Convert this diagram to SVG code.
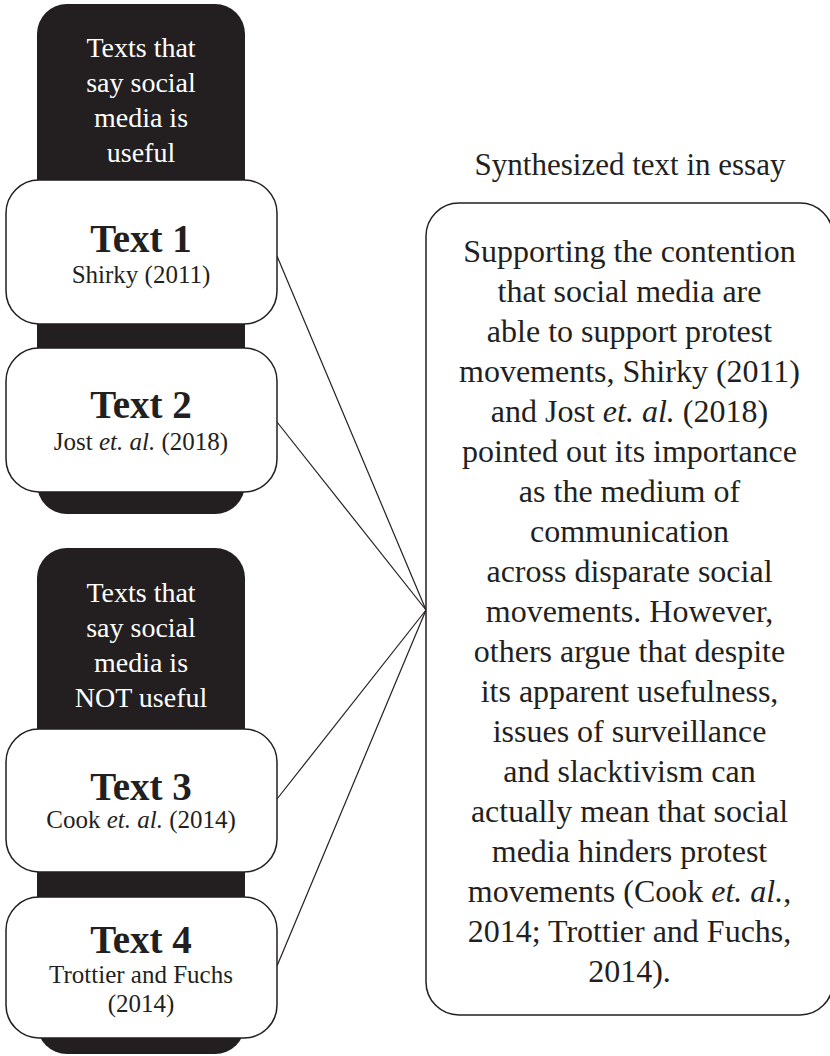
<svg xmlns="http://www.w3.org/2000/svg" width="830" height="1056" viewBox="0 0 830 1056">
  <style>
    .dark { fill: #231f20; }
    .card { fill: #ffffff; stroke: #231f20; stroke-width: 1.5; }
    .lbl { font-family: "Liberation Serif", "Times New Roman", serif; font-size: 28px; fill: #ffffff; text-anchor: middle; }
    .head { font-family: "Liberation Serif", "Times New Roman", serif; font-size: 39px; font-weight: bold; fill: #231f20; text-anchor: middle; }
    .sub { font-family: "Liberation Serif", "Times New Roman", serif; font-size: 25px; fill: #231f20; text-anchor: middle; }
    .body { font-family: "Liberation Serif", "Times New Roman", serif; font-size: 32px; fill: #231f20; text-anchor: middle; }
    .title { font-family: "Liberation Serif", "Times New Roman", serif; font-size: 31px; fill: #231f20; text-anchor: middle; }
    .it { font-style: italic; }
    .conn { stroke: #231f20; stroke-width: 1.2; fill: none; }
  </style>

  <g id="group-useful">
    <rect class="dark" x="37" y="4" width="208" height="510" rx="30" ry="30"/>
    <text class="lbl" x="141" y="57">Texts that</text>
    <text class="lbl" x="141" y="92">say social</text>
    <text class="lbl" x="141" y="127">media is</text>
    <text class="lbl" x="141" y="162">useful</text>
  </g>

  <g id="group-not-useful">
    <rect class="dark" x="37" y="548" width="208" height="506" rx="30" ry="30"/>
    <text class="lbl" x="141" y="602">Texts that</text>
    <text class="lbl" x="141" y="637">say social</text>
    <text class="lbl" x="141" y="672">media is</text>
    <text class="lbl" x="141" y="707">NOT useful</text>
  </g>

  <g id="connectors">
    <line class="conn" x1="277" y1="256" x2="426" y2="610"/>
    <line class="conn" x1="277" y1="422" x2="426" y2="610"/>
    <line class="conn" x1="277" y1="799" x2="426" y2="610"/>
    <line class="conn" x1="277" y1="966" x2="426" y2="610"/>
  </g>

  <g id="text1">
    <rect class="card" x="6" y="180" width="271" height="144" rx="33" ry="33"/>
    <text class="head" x="141" y="252">Text 1</text>
    <text class="sub" x="141" y="283">Shirky (2011)</text>
  </g>

  <g id="text2">
    <rect class="card" x="6" y="348" width="271" height="144" rx="33" ry="33"/>
    <text class="head" x="141" y="418">Text 2</text>
    <text class="sub" x="141" y="450">Jost <tspan class="it">et. al.</tspan> (2018)</text>
  </g>

  <g id="text3">
    <rect class="card" x="6" y="729" width="271" height="143" rx="33" ry="33"/>
    <text class="head" x="141" y="800">Text 3</text>
    <text class="sub" x="141" y="828">Cook <tspan class="it">et. al.</tspan> (2014)</text>
  </g>

  <g id="text4">
    <rect class="card" x="6" y="897" width="271" height="141" rx="33" ry="33"/>
    <text class="head" x="141" y="953">Text 4</text>
    <text class="sub" x="141" y="983">Trottier and Fuchs</text>
    <text class="sub" x="141" y="1012">(2014)</text>
  </g>

  <g id="synthesis">
    <text class="title" x="630" y="175">Synthesized text in essay</text>
    <rect class="card" x="426" y="203" width="407" height="812" rx="33" ry="33"/>
    <text class="body" x="629.5" y="262">Supporting the contention</text>
    <text class="body" x="629.5" y="302">that social media are</text>
    <text class="body" x="629.5" y="342">able to support protest</text>
    <text class="body" x="629.5" y="382">movements, Shirky (2011)</text>
    <text class="body" x="629.5" y="422">and Jost <tspan class="it">et. al.</tspan> (2018)</text>
    <text class="body" x="629.5" y="462">pointed out its importance</text>
    <text class="body" x="629.5" y="502">as the medium of</text>
    <text class="body" x="629.5" y="542">communication</text>
    <text class="body" x="629.5" y="582">across disparate social</text>
    <text class="body" x="629.5" y="622">movements. However,</text>
    <text class="body" x="629.5" y="662">others argue that despite</text>
    <text class="body" x="629.5" y="702">its apparent usefulness,</text>
    <text class="body" x="629.5" y="742">issues of surveillance</text>
    <text class="body" x="629.5" y="782">and slacktivism can</text>
    <text class="body" x="629.5" y="822">actually mean that social</text>
    <text class="body" x="629.5" y="862">media hinders protest</text>
    <text class="body" x="629.5" y="902">movements (Cook <tspan class="it">et. al.</tspan>,</text>
    <text class="body" x="629.5" y="942">2014; Trottier and Fuchs,</text>
    <text class="body" x="629.5" y="982">2014).</text>
  </g>
</svg>
